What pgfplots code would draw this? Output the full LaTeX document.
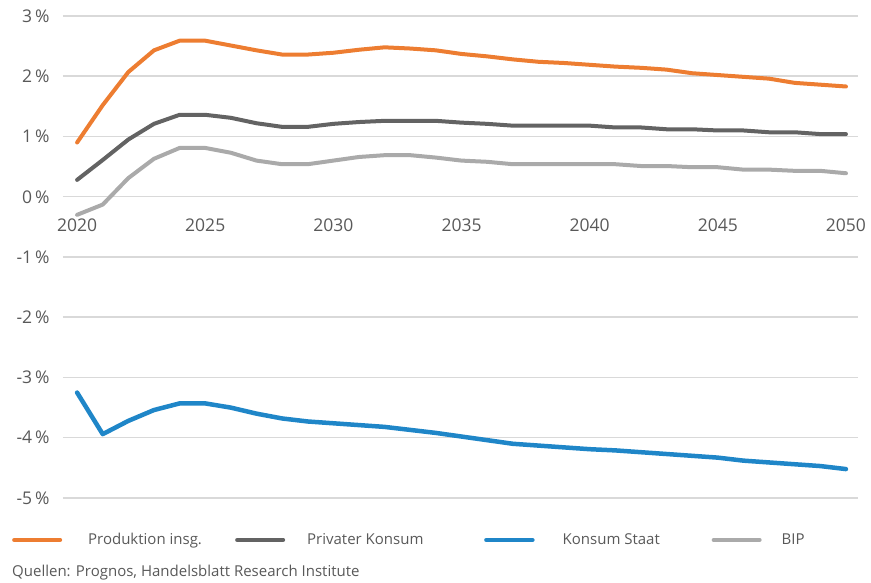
\documentclass[border=0pt]{standalone}
\usepackage{pgfplots}
\pgfplotsset{compat=1.18}
\usepackage{fontspec}
\setmainfont{Open Sans}
\definecolor{corange}{HTML}{ED7D31}
\definecolor{cdark}{HTML}{636363}
\definecolor{clight}{HTML}{AAAAAA}
\definecolor{cblue}{HTML}{1F86C8}
\definecolor{ctext}{HTML}{595959}
\definecolor{cgrid}{HTML}{D9D9D9}
\begin{document}
\begin{tikzpicture}[x=1pt,y=1pt]
\begin{axis}[
  at={(0pt,0pt)}, anchor=south west,
  scale only axis, width=795pt, height=482pt,
  xmin=2019.45, xmax=2050.47, ymin=-5, ymax=3,
  axis x line=middle, axis y line=left,
  x axis line style={draw=none}, y axis line style={draw=none},
  xtick={2020,2025,...,2050}, ytick={-5,...,3},
  yticklabels={-5\,\%,-4\,\%,-3\,\%,-2\,\%,-1\,\%,0\,\%,1\,\%,2\,\%,3\,\%},
  xticklabel={\pgfmathprintnumber[1000 sep={}]{\tick}},
  /pgf/number format/assume math mode=true,
  major tick length=0pt,
  ymajorgrids, grid style={cgrid, line width=1.5pt},
  ticklabel style={font=\fontsize{17.5}{20}\selectfont, text=ctext},
  yticklabel style={xshift=-10pt},
  xticklabel style={yshift=-19pt},
  clip=false,
  legend columns=4,
  legend style={at={(axis description cs:-0.0642,-0.0871)}, anchor=west, draw=none, fill=none,
    font=\fontsize{15}{18}\selectfont, text=ctext, inner sep=0pt,
    nodes={inner sep=0pt}, /tikz/every odd column/.append style={column sep=0pt},
    /tikz/every even column/.append style={column sep=0pt}},
  legend image code/.code={\draw[#1] (0pt,0pt) -- (46pt,0pt);},
  every axis plot/.append style={line join=round, line cap=round},
]
\addplot[corange, line width=4pt, mark=none] coordinates {
(2020,0.90)(2021,1.52)(2022,2.07)(2023,2.43)(2024,2.59)(2025,2.59)(2026,2.51)(2027,2.43)(2028,2.36)(2029,2.36)
(2030,2.39)(2031,2.44)(2032,2.48)(2033,2.46)(2034,2.43)(2035,2.37)(2036,2.33)(2037,2.28)(2038,2.24)(2039,2.22)
(2040,2.19)(2041,2.16)(2042,2.14)(2043,2.11)(2044,2.05)(2045,2.02)(2046,1.99)(2047,1.96)(2048,1.89)(2049,1.86)(2050,1.83)};
\addlegendentry{\makebox[173pt][l]{\hspace*{26pt}Produktion insg.}}
\addplot[cdark, line width=4pt, mark=none] coordinates {
(2020,0.28)(2021,0.61)(2022,0.95)(2023,1.21)(2024,1.36)(2025,1.36)(2026,1.31)(2027,1.22)(2028,1.16)(2029,1.16)
(2030,1.21)(2031,1.24)(2032,1.26)(2033,1.26)(2034,1.26)(2035,1.23)(2036,1.21)(2037,1.18)(2038,1.18)(2039,1.18)
(2040,1.18)(2041,1.15)(2042,1.15)(2043,1.12)(2044,1.12)(2045,1.10)(2046,1.10)(2047,1.07)(2048,1.07)(2049,1.04)(2050,1.04)};
\addlegendentry{\makebox[199pt][l]{\hspace*{22pt}Privater Konsum}}
\addplot[cblue, line width=4.5pt, mark=none] coordinates {
(2020,-3.25)(2021,-3.94)(2022,-3.72)(2023,-3.54)(2024,-3.43)(2025,-3.43)(2026,-3.50)(2027,-3.60)(2028,-3.68)(2029,-3.73)
(2030,-3.76)(2031,-3.79)(2032,-3.82)(2033,-3.87)(2034,-3.92)(2035,-3.98)(2036,-4.04)(2037,-4.10)(2038,-4.13)(2039,-4.16)
(2040,-4.19)(2041,-4.21)(2042,-4.24)(2043,-4.27)(2044,-4.30)(2045,-4.33)(2046,-4.38)(2047,-4.41)(2048,-4.44)(2049,-4.47)(2050,-4.52)};
\addlegendentry{\makebox[177pt][l]{\hspace*{28pt}Konsum Staat}}
\addplot[clight, line width=4pt, mark=none] coordinates {
(2020,-0.30)(2021,-0.13)(2022,0.31)(2023,0.63)(2024,0.81)(2025,0.81)(2026,0.73)(2027,0.60)(2028,0.54)(2029,0.54)
(2030,0.60)(2031,0.66)(2032,0.69)(2033,0.69)(2034,0.65)(2035,0.60)(2036,0.58)(2037,0.54)(2038,0.54)(2039,0.54)
(2040,0.54)(2041,0.54)(2042,0.51)(2043,0.51)(2044,0.49)(2045,0.49)(2046,0.45)(2047,0.45)(2048,0.43)(2049,0.43)(2050,0.39)};
\addlegendentry{\hspace*{20pt}BIP}
\end{axis}
\node[anchor=west, inner sep=0pt, text=ctext, font=\fontsize{15}{18}\selectfont] at (-51pt,-75pt) {Quellen: Prognos, Handelsblatt Research Institute};
\path[use as bounding box] (-63pt,-85pt) rectangle (808pt,498pt);
\end{tikzpicture}
\end{document}
